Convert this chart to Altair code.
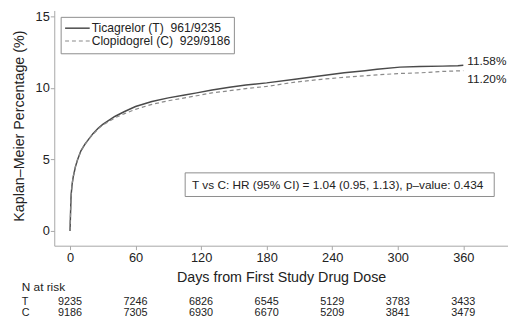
import altair as alt
import pandas as pd

FONT = "Liberation Sans"

# Kaplan-Meier curves
days_T = [0, 1, 2, 3, 5, 7, 10, 14, 17, 21, 26, 30, 41, 50, 60, 75, 90, 105, 116, 130,
          146, 161, 180, 206, 230, 251, 270, 281, 302, 320, 341, 355, 360]
pct_T = [0, 2.5, 3.3, 3.8, 4.5, 5.0, 5.6, 6.1, 6.4, 6.8, 7.2, 7.45, 8.0, 8.35, 8.7, 9.05,
         9.3, 9.5, 9.65, 9.85, 10.05, 10.2, 10.35, 10.6, 10.85, 11.05, 11.2, 11.3, 11.45,
         11.5, 11.52, 11.55, 11.58]
days_C = [0, 1, 2, 3, 5, 7, 10, 14, 17, 21, 26, 30, 41, 50, 60, 75, 90, 105, 116, 130,
          146, 161, 180, 206, 230, 251, 270, 300, 320, 341, 360]
pct_C = [0, 2.5, 3.3, 3.8, 4.5, 5.0, 5.6, 6.1, 6.4, 6.75, 7.15, 7.4, 7.9, 8.2, 8.5, 8.85,
         9.1, 9.3, 9.45, 9.65, 9.8, 9.95, 10.1, 10.4, 10.6, 10.74, 10.85, 11.0, 11.05,
         11.15, 11.2]

series_names = ["Ticagrelor (T)\u00a0\u00a0961/9235", "Clopidogrel (C)\u00a0\u00a0929/9186"]
end_labels = ["11.58%", "11.20%"]
hr_text = "T vs C: HR (95% CI) = 1.04 (0.95, 1.13), p\u2013value: 0.434"

risk_days = [0, 60, 120, 180, 240, 300, 360]
risk_T = [9235, 7246, 6826, 6545, 5129, 3783, 3433]
risk_C = [9186, 7305, 6930, 6670, 5209, 3841, 3479]

x_ticks = [0, 60, 120, 180, 240, 300, 360]
y_ticks = [0, 5, 10, 15]

curves = pd.DataFrame(
    {"day": days_T + days_C,
     "pct": pct_T + pct_C,
     "arm": ["T"] * len(days_T) + ["C"] * len(days_C)}
)

xs = alt.Scale(domain=[-14.4, 400.9], nice=False, zero=False)
ys = alt.Scale(domain=[-1.03, 15.41], nice=False, zero=False)

base = alt.Chart(curves)

x_enc = alt.X("day:Q", scale=xs,
              axis=alt.Axis(values=x_ticks, title="Days from First Study Drug Dose",
                            titleFontSize=14.5, titleFontWeight="normal", titleY=32,
                            titleBaseline="middle"))
y_enc = alt.Y("pct:Q", scale=ys,
              axis=alt.Axis(values=y_ticks, title="Kaplan\u2013Meier Percentage (%)",
                            titleFontSize=14.5, titleFontWeight="normal",
                            titleX=-35, titleY=117, titleAngle=270,
                            titleBaseline="middle", titleAlign="center"))

line_T = base.transform_filter(alt.datum.arm == "T").mark_line(
    color="#4a4a4a", strokeWidth=1.5).encode(x=x_enc, y=y_enc)
line_C = base.transform_filter(alt.datum.arm == "C").mark_line(
    color="#8a8a8a", strokeWidth=1.2, strokeDash=[4, 3]).encode(x="day:Q", y="pct:Q")

ends = pd.DataFrame({"day": [360, 360], "pct": [pct_T[-1], pct_C[-1]], "lab": end_labels})
end_T = alt.Chart(ends.iloc[[0]]).mark_text(
    align="left", baseline="middle", dx=4, dy=-4, fontSize=12, font=FONT, color="#222"
).encode(x="day:Q", y="pct:Q", text="lab:N")
end_C = alt.Chart(ends.iloc[[1]]).mark_text(
    align="left", baseline="middle", dx=4, dy=8, fontSize=12, font=FONT, color="#222"
).encode(x="day:Q", y="pct:Q", text="lab:N")

# Legend box
one = pd.DataFrame({"a": [0]})
leg_box = alt.Chart(one).mark_rect(fill="white", stroke="#8c8c8c", strokeWidth=1).encode(
    x=alt.value(7), x2=alt.value(183), y=alt.value(7), y2=alt.value(44))
leg_T = alt.Chart(one).mark_rule(color="#4a4a4a", strokeWidth=1.5).encode(
    x=alt.value(11), x2=alt.value(36), y=alt.value(18))
leg_C = alt.Chart(one).mark_rule(color="#8a8a8a", strokeWidth=1.2, strokeDash=[4, 3]).encode(
    x=alt.value(11), x2=alt.value(36), y=alt.value(31))
leg_txt = pd.DataFrame({"t": series_names, "yy": [18, 31]})
leg_text = alt.Chart(leg_txt).mark_text(
    align="left", baseline="middle", fontSize=12.3, font=FONT, color="#222"
).encode(x=alt.value(38), y=alt.Y("yy:Q", scale=None), text="t:N")

# HR box
hr_box = alt.Chart(one).mark_rect(fill="white", stroke="#8c8c8c", strokeWidth=1).encode(
    x=alt.value(133), x2=alt.value(447), y=alt.value(165), y2=alt.value(189))
hr = alt.Chart(pd.DataFrame({"t": [hr_text]})).mark_text(
    align="left", baseline="middle", fontSize=12, font=FONT, color="#222"
).encode(x=alt.value(140), y=alt.value(177), text="t:N")

# Numbers at risk
risk = pd.DataFrame({"day": risk_days, "T": risk_T, "C": risk_C})
risk_T_txt = alt.Chart(risk).mark_text(
    baseline="middle", fontSize=11, font=FONT, color="#222"
).encode(x="day:Q", y=alt.value(296.5), text="T:N")
risk_C_txt = alt.Chart(risk).mark_text(
    baseline="middle", fontSize=11, font=FONT, color="#222"
).encode(x="day:Q", y=alt.value(307.5), text="C:N")
row_labels = pd.DataFrame({"t": ["N at risk", "T", "C"], "yy": [281, 296.5, 307.5],
                           "fs": [12, 11, 11]})
row_txt = alt.Chart(row_labels).mark_text(
    align="left", baseline="middle", font=FONT, color="#222"
).encode(x=alt.value(-33), y=alt.Y("yy:Q", scale=None), text="t:N",
         size=alt.Size("fs:Q", scale=None, legend=None))

chart = alt.layer(
    line_T, line_C, end_T, end_C,
    leg_box, leg_T, leg_C, leg_text,
    hr_box, hr,
    risk_T_txt, risk_C_txt, row_txt,
).properties(
    width=461, height=239,
    autosize="none",
    padding={"left": 47, "top": 0, "right": 0, "bottom": 74},
    background="white",
).configure_view(stroke=None).configure_axis(
    grid=False, domainColor="#a6a6a6", tickColor="#a6a6a6", tickSize=4,
    labelFont=FONT, titleFont=FONT, labelFontSize=13, labelColor="#222",
    titleColor="#222", labelPadding=2,
).configure_axisY(labelPadding=1)

chart.save("out.html", embed_options={"renderer": "svg", "actions": False})
